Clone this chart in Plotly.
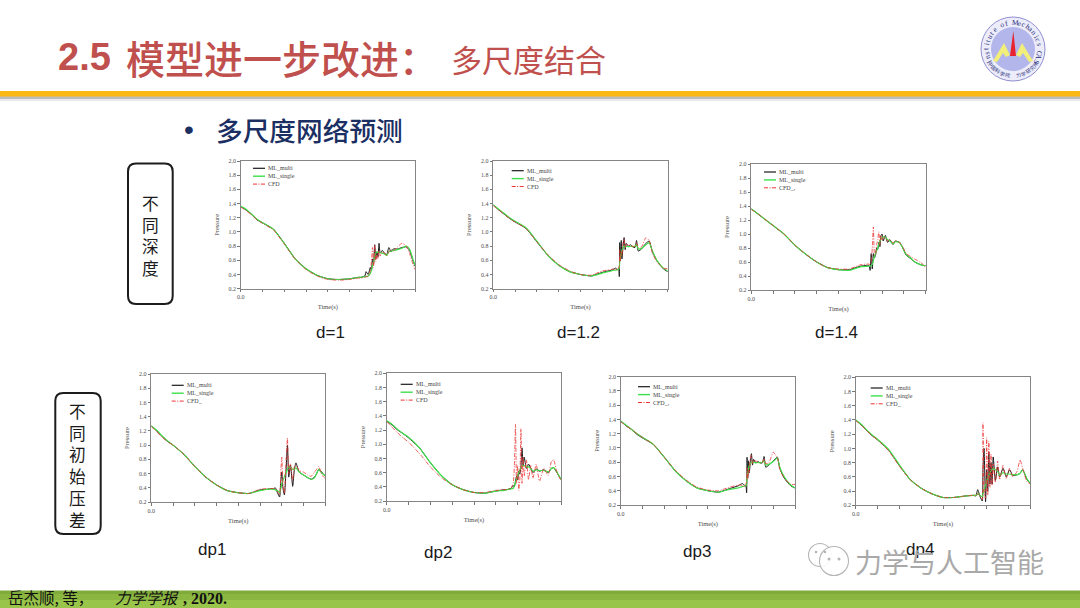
import math
import plotly.graph_objects as go

# ---------- data (x in axis-tick units, 0..8) ----------
T_EARLY = [0, .25, .5, .75, 1, 1.5, 2, 2.5, 3, 3.5, 4, 4.5, 5, 5.4]
Y_TICKS = [.2, .4, .6, .8, 1.0, 1.2, 1.4, 1.6, 1.8, 2.0]
Y_LABELS = ["0.2", "0.4", "0.6", "0.8", "1.0", "1.2", "1.4", "1.6", "1.8", "2.0"]
X_TICKS = [0, 1, 2, 3, 4, 5, 6, 7, 8]
X_LABELS = ["0.0", "", "", "", "", "", "", "", ""]
SERIES_NAMES = ["ML_multi", "ML_single", "CFD"]
CFD_LABELS = ["CFD", "CFD", "CFD_,", "CFD_", "CFD", "CFD_,", "CFD_"]
PANEL_LABELS = ["d=1", "d=1.2", "d=1.4", "dp1", "dp2", "dp3", "dp4"]

T1 = T_EARLY + [5.5, 5.7, 5.75, 5.85, 5.95, 6.0, 6.05, 6.1, 6.15, 6.2, 6.25, 6.3, 6.35, 6.4, 6.5, 6.6,
                6.7, 6.8, 6.9, 7.0, 7.2, 7.4, 7.6, 7.75, 7.9, 8]
MULTI1 = [1.36, 1.31, 1.25, 1.17, 1.13, 1.04, .84, .62, .48, .39, .34, .33, .34, .36,
          .36, .38, .44, .40, .50, .45, .62, .55, .82, .62, .72, .65, .84, .70, .74, .70,
          .68, .78, .72, .76, .76, .78, .79, .74, .60, .52]
SINGLE1 = [1.36, 1.32, 1.25, 1.18, 1.13, 1.04, .84, .62, .48, .39, .34, .33, .34, .36,
           .36, .37, .37, .38, .42, .46, .52, .58, .64, .70, .72, .71, .72, .71, .70, .69,
           .67, .72, .73, .74, .75, .77, .80, .76, .62, .53]
CFD1 = [1.35, 1.30, 1.24, 1.17, 1.12, 1.03, .83, .62, .47, .38, .33, .32, .33, .35,
        .35, .36, .37, .37, .46, .58, .78, .50, .82, .58, .70, .62, .74, .66, .72, .70,
        .66, .72, .75, .73, .79, .84, .80, .70, .55, .47]

T2 = T_EARLY + [5.5, 5.6, 5.7, 5.75, 5.78, 5.8, 5.83, 5.87, 5.9, 5.95, 6.0, 6.05, 6.1, 6.2, 6.3, 6.4,
                6.5, 6.57, 6.65, 6.8, 7.0, 7.15, 7.3, 7.5, 7.8, 8]
MULTI2 = [1.38, 1.31, 1.25, 1.19, 1.14, 1.05, .86, .67, .53, .44, .40, .38, .43, .46,
          .47, .49, .47, .48, .37, .85, .60, .88, .62, .78, .92, .75, .84, .80, .82, .79,
          .78, .88, .73, .76, .84, .87, .72, .60, .48, .44]
SINGLE2 = [1.38, 1.32, 1.26, 1.20, 1.15, 1.06, .87, .67, .53, .44, .40, .38, .42, .45,
           .46, .46, .47, .47, .50, .58, .64, .70, .74, .77, .80, .79, .80, .79, .80, .79,
           .80, .82, .76, .77, .82, .85, .73, .60, .49, .45]
CFD2 = [1.37, 1.31, 1.25, 1.19, 1.14, 1.05, .86, .68, .54, .45, .40, .39, .45, .47,
        .48, .47, .47, .50, .52, .75, .58, .72, .66, .85, .90, .78, .82, .82, .80, .80,
        .79, .85, .78, .79, .92, .88, .70, .58, .49, .48]

T3 = T_EARLY + [5.45, 5.5, 5.55, 5.6, 5.65, 5.7, 5.75, 5.8, 5.85, 5.9, 5.95, 6.0, 6.05, 6.15, 6.25, 6.35,
                6.5, 6.6, 6.8, 6.95, 7.1, 7.3, 7.5, 7.7, 7.9, 8]
MULTI3 = [1.36, 1.30, 1.24, 1.18, 1.12, 1.00, .84, .71, .60, .52, .49, .49, .54, .55,
          .48, .72, .50, .72, .66, .70, .80, .78, .88, .82, .98, 1.0, .90, .98, .88, .92,
          .85, .90, .88, .80, .70, .65, .60, .57, .55, .55]
SINGLE3 = [1.36, 1.30, 1.24, 1.18, 1.12, 1.00, .84, .71, .60, .52, .49, .48, .53, .54,
           .54, .55, .57, .62, .68, .72, .76, .80, .85, .90, .93, .95, .96, .95, .92, .90,
           .86, .89, .88, .80, .71, .66, .60, .57, .55, .55]
CFD3 = [1.35, 1.30, 1.24, 1.18, 1.12, 1.00, .84, .71, .60, .52, .50, .50, .56, .57,
        .56, .60, .80, 1.10, .72, .70, .85, .92, 1.03, .84, .98, .92, .96, .94, .90, .92,
        .87, .90, .88, .82, .72, .68, .64, .61, .56, .52]

T4 = T_EARLY + [5.5, 5.6, 5.7, 5.8, 5.9, 5.95, 6.0, 6.05, 6.12, 6.18, 6.26, 6.32, 6.4, 6.5, 6.58, 6.65,
                6.8, 7.0, 7.2, 7.35, 7.5, 7.6, 7.7, 7.8, 7.9, 8]
MULTI4 = [1.27, 1.20, 1.12, 1.05, 1.00, .87, .70, .55, .44, .36, .33, .32, .37, .38,
          .39, .38, .40, .33, .27, .48, .62, .40, .30, .55, 1.0, .55, .72, .42, .66, .75,
          .62, .58, .54, .52, .55, .60, .66, .63, .60, .56]
SINGLE4 = [1.27, 1.21, 1.13, 1.06, 1.00, .87, .70, .55, .44, .36, .33, .32, .36, .38,
           .38, .38, .37, .36, .33, .38, .46, .50, .56, .60, .66, .70, .69, .66, .66, .68,
           .62, .58, .54, .52, .54, .60, .66, .62, .59, .57]
CFD4 = [1.26, 1.19, 1.11, 1.05, 1.00, .87, .70, .55, .44, .36, .33, .32, .38, .39,
        .39, .39, .39, .35, .30, .60, .83, .45, .32, .70, 1.10, .60, .74, .50, .70, .72,
        .64, .62, .58, .56, .62, .66, .70, .62, .56, .53]

T5 = T_EARLY + [5.5, 5.7, 5.8, 5.85, 5.9, 5.95, 6.0, 6.05, 6.1, 6.15, 6.2, 6.25, 6.3, 6.4, 6.5, 6.6,
                6.7, 6.85, 7.0, 7.2, 7.4, 7.55, 7.65, 7.8, 7.9, 8]
MULTI5 = [1.33, 1.27, 1.20, 1.15, 1.09, .95, .74, .56, .43, .36, .32, .31, .34, .36,
          .36, .38, .42, .40, .48, .55, .50, .62, .58, .68, .95, .70, .82, .66, .72, .66,
          .60, .65, .62, .64, .60, .66, .67, .60, .55, .50]
SINGLE5 = [1.33, 1.28, 1.21, 1.15, 1.10, .95, .74, .56, .43, .36, .32, .31, .34, .35,
           .36, .37, .38, .42, .46, .52, .56, .60, .64, .66, .69, .70, .70, .68, .68, .66,
           .62, .64, .63, .63, .61, .66, .67, .61, .55, .50]
CFD5 = [1.32, 1.24, 1.16, 1.09, 1.03, .87, .68, .53, .43, .36, .32, .32, .35, .36,
        .36, .38, .46, .70, 1.28, .45, .70, .35, .50, 1.22, .45, .82, .55, .78, .50, .70,
        .52, .72, .48, .66, .56, .76, .78, .60, .54, .48]

T6 = T_EARLY + [5.5, 5.6, 5.7, 5.75, 5.78, 5.8, 5.83, 5.87, 5.9, 5.95, 6.0, 6.05, 6.1, 6.2, 6.3, 6.4,
                6.5, 6.58, 6.66, 6.8, 7.0, 7.19, 7.3, 7.5, 7.8, 8]
MULTI6 = [1.38, 1.31, 1.26, 1.19, 1.14, 1.05, .87, .68, .54, .44, .40, .38, .43, .47,
          .49, .50, .47, .46, .37, .87, .58, .82, .65, .80, .92, .76, .84, .79, .81, .79,
          .79, .88, .73, .76, .82, .87, .72, .58, .47, .44]
SINGLE6 = [1.38, 1.32, 1.26, 1.20, 1.15, 1.05, .87, .68, .54, .44, .40, .38, .42, .44,
           .45, .46, .47, .47, .50, .60, .66, .71, .75, .78, .80, .80, .80, .79, .80, .79,
           .80, .82, .76, .77, .81, .86, .73, .60, .48, .44]
CFD6 = [1.37, 1.31, 1.26, 1.20, 1.15, 1.05, .87, .69, .55, .45, .41, .40, .45, .48,
        .48, .47, .46, .50, .52, .72, .56, .70, .66, .86, .90, .78, .82, .82, .80, .80,
        .79, .85, .78, .79, .94, .86, .70, .58, .49, .49]

T7 = T_EARLY + [5.5, 5.59, 5.7, 5.8, 5.83, 5.88, 5.95, 6.0, 6.05, 6.1, 6.15, 6.2, 6.25, 6.3, 6.4, 6.5,
                6.6, 6.75, 6.9, 7.05, 7.2, 7.4, 7.53, 7.65, 7.85, 8]
MULTI7 = [1.40, 1.33, 1.25, 1.18, 1.12, .98, .76, .56, .44, .36, .31, .31, .33, .34,
          .33, .42, .32, .26, .70, 1.00, .25, .70, .40, .95, .50, .80, .50, .88, .55, .74,
          .60, .72, .60, .70, .62, .63, .65, .70, .56, .51]
SINGLE7 = [1.40, 1.34, 1.26, 1.19, 1.13, .99, .77, .56, .44, .36, .31, .31, .33, .34,
           .34, .36, .34, .32, .36, .42, .48, .54, .58, .62, .66, .68, .70, .72, .70, .68,
           .62, .66, .64, .64, .63, .63, .65, .70, .57, .51]
CFD7 = [1.39, 1.33, 1.25, 1.18, 1.12, .97, .75, .56, .44, .36, .31, .31, .33, .34,
        .34, .36, .33, .28, 1.36, .40, .30, 1.15, .34, 1.10, .45, .92, .48, .78, .52, .82,
        .56, .76, .58, .72, .60, .68, .84, .72, .53, .50]

PANEL_DATA = [(T1, MULTI1, SINGLE1, CFD1), (T2, MULTI2, SINGLE2, CFD2), (T3, MULTI3, SINGLE3, CFD3),
              (T4, MULTI4, SINGLE4, CFD4), (T5, MULTI5, SINGLE5, CFD5), (T6, MULTI6, SINGLE6, CFD6),
              (T7, MULTI7, SINGLE7, CFD7)]

# ---------- layout geometry in slide pixels ----------
W, H = 1080, 608
FRAMES = [(240.7, 415, 161, 288.7), (493.3, 667.7, 161, 288.7), (751.3, 925.7, 164, 290),
          (151.3, 325.3, 374, 502), (386.7, 561.3, 373.3, 501), (620.7, 795, 376.7, 505),
          (855.7, 1030.3, 377.3, 505.3)]
LEGEND_POS = [(253, 168.3), (511.7, 170.7), (764, 172), (171.7, 385.3), (400.7, 384.3), (638, 386.7), (870.7, 388)]
LABEL_POS = [(330, 332), (578, 332), (836, 332), (212, 549), (438, 552), (697, 551), (920, 549)]
COLORS = ["#1a1a1a", "#3FE04A", "#EE3333"]
WIDTHS = [1.0, 1.2, 0.8]
DASHES = ["solid", "solid", "4px,1.5px,1px,1.5px"]

SANS = "Liberation Sans"
SERIF = "Liberation Serif"
CJK = "Noto Sans CJK SC"
NAVY = "#1B2F63"
RED = "#C0504D"


def px(x):
    return x / W


def py(y):
    return 1 - y / H


def note(x, y, text, size, color="#000", family=CJK, anchor="left", angle=0, weight=None):
    font = dict(size=size, color=color, family=family)
    if weight:
        font["weight"] = weight
    return dict(x=px(x), y=py(y), xref="paper", yref="paper", text=text, showarrow=False,
                xanchor=anchor, yanchor="middle", font=font, textangle=angle, borderpad=0, borderwidth=0)


def rect(x0, y0, x1, y1, fill):
    return dict(type="rect", xref="paper", yref="paper", x0=px(x0), x1=px(x1), y0=py(y0), y1=py(y1),
                fillcolor=fill, line_width=0, layer="below")


def circle(cx, cy, r, fill, line="rgba(0,0,0,0)", lw=0, layer="above"):
    return dict(type="circle", xref="paper", yref="paper", x0=px(cx - r), x1=px(cx + r),
                y0=py(cy + r), y1=py(cy - r), fillcolor=fill, line=dict(color=line, width=lw), layer=layer)


def poly(points, fill):
    d = "M " + " L ".join(f"{px(a):.5f},{py(b):.5f}" for a, b in points) + " Z"
    return dict(type="path", xref="paper", yref="paper", path=d, fillcolor=fill, line_width=0, layer="above")


def round_box(x0, y0, x1, y1, r):
    p = lambda a, b: f"{px(a):.5f},{py(b):.5f}"
    d = (f"M {p(x0 + r, y0)} L {p(x1 - r, y0)} Q {p(x1, y0)} {p(x1, y0 + r)} "
         f"L {p(x1, y1 - r)} Q {p(x1, y1)} {p(x1 - r, y1)} "
         f"L {p(x0 + r, y1)} Q {p(x0, y1)} {p(x0, y1 - r)} "
         f"L {p(x0, y0 + r)} Q {p(x0, y0)} {p(x0 + r, y0)} Z")
    return dict(type="path", xref="paper", yref="paper", path=d, fillcolor="rgba(0,0,0,0)",
                line=dict(color="#1c1c1c", width=2))


fig = go.Figure()
shapes, annotations, axes = [], [], {}

# slide furniture
shapes += [rect(0, 96, W, 99, "#BDBDBD"), rect(0, 99, W, 101, "#E9E9E9"), rect(0, 91, W, 96.5, "#FDB913"),
           rect(0, 590.5, W, 594, "#7FAB3A"), rect(0, 594, W, 600, "#8BB741"), rect(0, 600, W, 608, "#99C54B")]
annotations += [
    note(58, 57, "2.5", 38, RED, SANS, weight=700),
    note(126, 57, "模型进一步改进：", 39, RED, weight=500),
    note(451, 59, "多尺度结合", 31, RED),
    note(184, 130, "•", 28, NAVY, SANS),
    note(216, 129, "多尺度网络预测", 26.7, NAVY, weight=500),
]

# panels
for i, (series, frame) in enumerate(zip(PANEL_DATA, FRAMES)):
    n = i + 1
    suffix = "" if n == 1 else str(n)
    t = series[0]
    for name, y, col, lw, dash in zip(SERIES_NAMES, series[1:], COLORS, WIDTHS, DASHES):
        fig.add_trace(go.Scatter(x=t, y=y, mode="lines", name=name, showlegend=False,
                                 line=dict(color=col, width=lw, dash=dash, shape="spline", smoothing=0.5),
                                 xaxis="x" + suffix, yaxis="y" + suffix))
    left, right, top, bottom = frame
    common = dict(showgrid=False, zeroline=False, showline=True, mirror=True, linecolor="#858585", linewidth=1,
                  ticks="outside", ticklen=2.5, tickwidth=0.8, tickcolor="#777",
                  tickfont=dict(size=6, family=SERIF, color="#4d4d4d"), automargin=False)
    axes["xaxis" + suffix] = dict(common, domain=[px(left), px(right)], anchor="y" + suffix, range=[0, 8],
                                  tickmode="array", tickvals=X_TICKS, ticktext=X_LABELS,
                                  title=dict(text="Time(s)", standoff=5,
                                             font=dict(size=6.5, family=SERIF, color="#4d4d4d")))
    axes["yaxis" + suffix] = dict(common, domain=[py(bottom), py(top)], anchor="x" + suffix, range=[.2, 2.0],
                                  tickmode="array", tickvals=Y_TICKS, ticktext=Y_LABELS,
                                  title=dict(text="Pressure", standoff=8,
                                             font=dict(size=6.5, family=SERIF, color="#4d4d4d")))
    # compact legend (plotly's own legend keys cannot be this short)
    kx, ky = LEGEND_POS[i]
    labels = [SERIES_NAMES[0], SERIES_NAMES[1], CFD_LABELS[i]]
    for r, (lab, col, lw, dash) in enumerate(zip(labels, COLORS, WIDTHS, DASHES)):
        yy = ky + r * 7.9
        shapes.append(dict(type="line", xref="paper", yref="paper", x0=px(kx), x1=px(kx + 12), y0=py(yy), y1=py(yy),
                           line=dict(color=col, width=lw + 0.2, dash=dash)))
        annotations.append(note(kx + 15, yy, lab, 6, "#444", SERIF))
    lx, ly = LABEL_POS[i]
    annotations.append(note(lx, ly, PANEL_LABELS[i], 17, "#1a1a1a", SANS, anchor="center"))

# category boxes
shapes += [round_box(128, 163.5, 172.7, 304, 8), round_box(55.3, 393, 100.7, 534, 8)]
annotations.append(note(150, 236, "<br>".join("不同深度"), 16.7, "#1a1a1a", anchor="center"))
annotations.append(note(77, 465, "<br>".join("不同初始压差"), 16.7, "#1a1a1a", anchor="center"))

# footer
annotations += [
    note(8, 597, "岳杰顺, 等，", 15.5, "#111"),
    note(115, 597, "<i>力学学报</i>", 15.5, "#111"),
    note(183, 598.5, "<b>, 2020.</b>", 16, "#111", SERIF),
]

# logo
LOGO_X, LOGO_Y, LOGO_R = 1013, 49, 32
shapes += [
    circle(LOGO_X, LOGO_Y, LOGO_R, "#ECECFA", "#8F8FD0", 1),
    circle(LOGO_X, LOGO_Y, 22, "#B3B6EA"),
    poly([(993, 61), (1004, 43), (1010, 55), (1006, 57), (1003, 53), (997, 62)], "#F2EE7A"),
    poly([(1033, 61), (1022, 43), (1016, 55), (1020, 57), (1023, 53), (1029, 62)], "#F2EE7A"),
    poly([(1013.3, 31), (1010, 56), (1016, 56)], "#E8222E"),
]
RING_TEXT = "Institute of Mechanics CAS"
for k, ch in enumerate(RING_TEXT):
    ang = -118 + k * 236 / (len(RING_TEXT) - 1)
    a = math.radians(ang)
    annotations.append(note(LOGO_X + 26.8 * math.sin(a), LOGO_Y - 26.8 * math.cos(a), ch, 7.5, "#2A2F7A", SERIF,
                            anchor="center", angle=ang))
for k, ch in enumerate("中国科学院"):
    ang = 236 - k * 11
    a = math.radians(ang)
    annotations.append(note(LOGO_X + 27 * math.sin(a), LOGO_Y - 27 * math.cos(a), ch, 5, "#2A2F7A",
                            anchor="center", angle=ang - 180))
for k, ch in enumerate("力学研究所"):
    ang = 168 - k * 11
    a = math.radians(ang)
    annotations.append(note(LOGO_X + 27 * math.sin(a), LOGO_Y - 27 * math.cos(a), ch, 5, "#2A2F7A",
                            anchor="center", angle=ang - 180))

# watermark (sits on top of dp4)
shapes += [circle(820, 555, 11.5, "rgba(255,255,255,0.9)", "#B5B5B5", 1.1),
           circle(834, 561, 14.5, "rgba(255,255,255,0.9)", "#B5B5B5", 1.1),
           circle(816, 552, 1.3, "#B5B5B5"), circle(825, 552, 1.3, "#B5B5B5"),
           circle(829, 559, 1.5, "#B5B5B5"), circle(839, 559, 1.5, "#B5B5B5")]
annotations.append(note(855, 561, "力学与人工智能", 27, "#A9A9A9"))

fig.update_layout(width=W, height=H, margin=dict(l=0, r=0, t=0, b=0), autosize=False,
                  paper_bgcolor="#FFFFFF", plot_bgcolor="#FFFFFF", showlegend=False,
                  shapes=shapes, annotations=annotations, **axes)

fig.write_html("out.html", config={"displayModeBar": False},
               post_script="document.body.style.margin='0';document.body.style.overflow='hidden';")
